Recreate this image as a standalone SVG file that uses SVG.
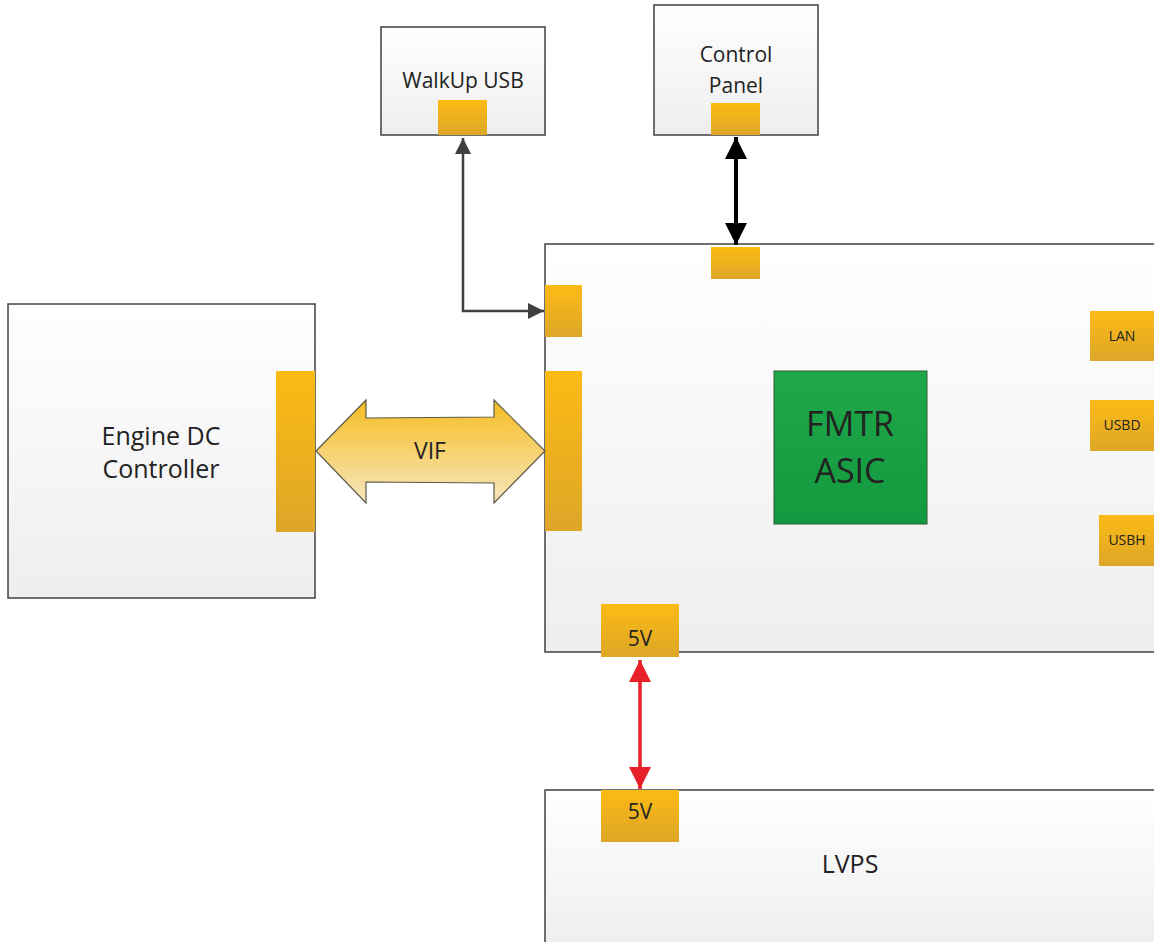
<svg xmlns="http://www.w3.org/2000/svg" width="1154" height="942" viewBox="0 0 1154 942">
<defs>
<linearGradient id="boxg" x1="0" y1="0" x2="0" y2="1"><stop offset="0" stop-color="#ffffff"/><stop offset="1" stop-color="#eeeeee"/></linearGradient>
<linearGradient id="portg" x1="0" y1="0" x2="0" y2="1"><stop offset="0" stop-color="#fbbb14"/><stop offset="1" stop-color="#dea628"/></linearGradient>
<linearGradient id="vifg" x1="0" y1="0" x2="0" y2="1"><stop offset="0" stop-color="#f6bd22"/><stop offset="1" stop-color="#f6e6bd"/></linearGradient>
<linearGradient id="asicg" x1="0" y1="0" x2="0" y2="1"><stop offset="0" stop-color="#1fa84a"/><stop offset="1" stop-color="#13993f"/></linearGradient>
<marker id="ag" viewBox="0 0 10 10" refX="10" refY="5" markerWidth="22" markerHeight="16" markerUnits="userSpaceOnUse" orient="auto-start-reverse"><path d="M0,0 L10,5 L0,10 z" fill="#404040"/></marker>
<marker id="ab" viewBox="0 0 10 10" refX="10" refY="5" markerWidth="31" markerHeight="22" markerUnits="userSpaceOnUse" orient="auto-start-reverse"><path d="M0,0 L10,5 L0,10 z" fill="#000000"/></marker>
<marker id="ar" viewBox="0 0 10 10" refX="10" refY="5" markerWidth="28" markerHeight="22" markerUnits="userSpaceOnUse" orient="auto-start-reverse"><path d="M0,0 L10,5 L0,10 z" fill="#e8202a"/></marker>
</defs>
<style>
.box{fill:url(#boxg);stroke:#404040;stroke-width:1.5}
.port{fill:url(#portg)}
.t{font-family:"Open Sans","Liberation Sans",sans-serif;fill:#222222;text-anchor:middle}
</style>
<rect width="1154" height="942" fill="#ffffff"/>
<g id="walkup">
<rect class="box" x="381" y="27" width="164" height="108"/>
<text class="t" x="463" y="88" font-size="21">WalkUp USB</text>
<rect class="port" x="438" y="100" width="49" height="35"/>
</g>
<g id="control-panel">
<rect class="box" x="654" y="5" width="164" height="130"/>
<text class="t" x="736" y="62" font-size="21">Control</text>
<text class="t" x="736" y="93" font-size="21">Panel</text>
<rect class="port" x="711" y="103" width="49" height="32"/>
</g>
<g id="engine-dc">
<rect class="box" x="8" y="304" width="307" height="294"/>
<text class="t" x="161" y="445" font-size="25">Engine DC</text>
<text class="t" x="161" y="478" font-size="25">Controller</text>
<rect class="port" x="276" y="371" width="39" height="161"/>
</g>
<g id="main-board">
<rect class="box" x="545" y="244" width="620" height="408"/>
<rect class="port" x="711" y="247" width="49" height="32"/>
<rect class="port" x="545" y="285" width="37" height="52"/>
<rect class="port" x="545" y="371" width="37" height="160"/>
<rect class="port" x="1090" y="311" width="64" height="50"/>
<text class="t" x="1122" y="341" font-size="14">LAN</text>
<rect class="port" x="1090" y="400" width="64" height="51"/>
<text class="t" x="1122" y="430" font-size="14">USBD</text>
<rect class="port" x="1099" y="515" width="55" height="51"/>
<text class="t" x="1127" y="545" font-size="14">USBH</text>
<rect class="port" x="601" y="604" width="78" height="53"/>
<text class="t" x="640" y="646" font-size="21">5V</text>
</g>
<g id="fmtr-asic">
<rect x="774" y="371" width="153" height="153" fill="url(#asicg)" stroke="#2a5a33" stroke-width="1"/>
<text class="t" x="850" y="436" font-size="34" fill="#1a1a1a">FMTR</text>
<text class="t" x="850" y="483" font-size="34" fill="#1a1a1a">ASIC</text>
</g>
<g id="lvps">
<rect class="box" x="545" y="790" width="620" height="160"/>
<rect class="port" x="601" y="790" width="78" height="52"/>
<text class="t" x="640" y="819" font-size="21">5V</text>
<text class="t" x="850" y="873" font-size="25">LVPS</text>
</g>
<g id="connectors">
<polyline points="463,138 463,311 544,311" fill="none" stroke="#404040" stroke-width="2.5" marker-start="url(#ag)" marker-end="url(#ag)"/>
<line x1="736" y1="137" x2="736" y2="245" stroke="#000000" stroke-width="4" marker-start="url(#ab)" marker-end="url(#ab)"/>
<line x1="640" y1="660" x2="640" y2="789" stroke="#e8202a" stroke-width="3.5" marker-start="url(#ar)" marker-end="url(#ar)"/>
<g id="vif">
<polygon points="316,451 366,400 366,418 494,417 494,400 545,451 494,503 494,483 366,482 366,503" fill="url(#vifg)" stroke="#5a5a4a" stroke-width="1.2"/>
<text class="t" x="430" y="459" font-size="23">VIF</text>
</g>
</g>
</svg>
